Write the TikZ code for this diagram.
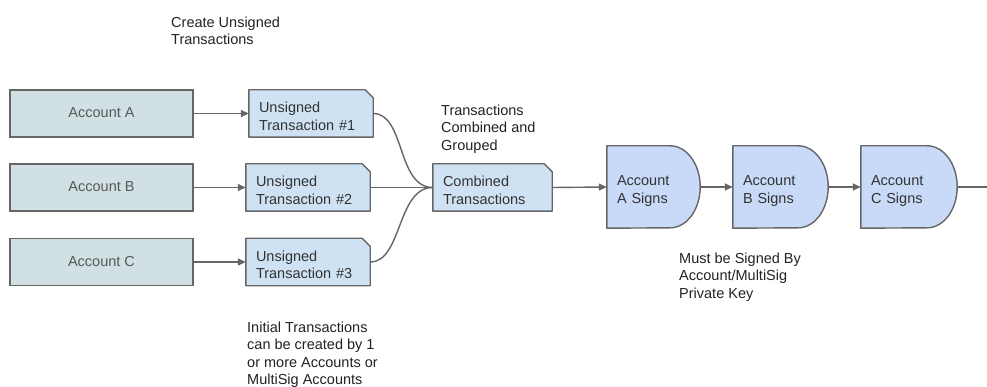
\documentclass[tikz,border=0pt]{standalone}
\usepackage{fontspec}
\setmainfont{Liberation Sans}
\usetikzlibrary{arrows.meta}
\definecolor{edge}{HTML}{666666}
\definecolor{acctfill}{HTML}{D0E0E3}
\definecolor{txfill}{HTML}{CFE2F3}
\definecolor{signfill}{HTML}{C9DAF8}
\definecolor{acctext}{HTML}{595959}
\definecolor{txtext}{HTML}{333333}
\definecolor{notetext}{HTML}{222222}
\tikzset{
  every node/.style={font=\fontsize{14.5}{17.5}\selectfont},
  acct/.style={draw=edge, line width=1.4pt, fill=acctfill, text=acctext, minimum width=183pt, minimum height=47pt, inner sep=0pt},
  txdoc/.style={draw=none, minimum height=47pt, inner xsep=10pt, inner ysep=0pt, align=left, text=txtext},
  signbox/.style={draw=none, minimum height=82pt, inner xsep=10pt, inner ysep=0pt, align=left, text=txtext},
  note/.style={anchor=north west, inner sep=0pt, align=left, text=notetext},
  conn/.style={draw=edge, line width=1.4pt},
  arr/.style={conn, -{Triangle[length=8pt,width=7pt]}},
  outline/.style={draw=edge, line width=1.4pt, line join=round}
}
\newcommand{\docshape}[2]{%
  \path[outline, fill=#2] (#1.south west) -- (#1.north west) -- ([xshift=-8pt]#1.north east) -- ([yshift=-8pt]#1.north east) -- (#1.south east) -- cycle;}
\newcommand{\dshape}[1]{%
  \path[outline, fill=signfill] (#1.south west) -- (#1.north west) -- ([xshift=-30pt]#1.north east) arc[start angle=90, end angle=-90, x radius=30pt, y radius=41pt] -- cycle;}
\begin{document}
\begin{tikzpicture}[x=1pt,y=-1pt]
\useasboundingbox (0,0) rectangle (987,387);

% accounts
\node[acct] (accA) at (101.5,113.5) {\raisebox{2pt}{Account A}};
\node[acct] (accB) at (101.5,187.5) {\raisebox{2pt}{Account B}};
\node[acct] (accC) at (101.5,262) {\raisebox{2pt}{Account C}};

% unsigned transactions
\node[txdoc, minimum width=124pt, text width=104pt] (tx1) at (311,113.5) {};
\node[txdoc, minimum width=124pt, text width=104pt] (tx2) at (308,187.5) {};
\node[txdoc, minimum width=124pt, text width=104pt] (tx3) at (308,262) {};
\docshape{tx1}{txfill}
\docshape{tx2}{txfill}
\docshape{tx3}{txfill}
\node[txdoc, minimum width=124pt, text width=104pt, yshift=-3pt] at (tx1) {Unsigned\\Transaction \#1};
\node[txdoc, minimum width=124pt, text width=104pt, yshift=-3pt] at (tx2) {Unsigned\\Transaction \#2};
\node[txdoc, minimum width=124pt, text width=104pt, yshift=-3pt] at (tx3) {Unsigned\\Transaction \#3};

% combined
\node[txdoc, minimum width=119pt, text width=99pt] (comb) at (492.5,187.5) {};
\docshape{comb}{txfill}
\node[txdoc, minimum width=119pt, text width=99pt, yshift=-3pt] at (comb) {Combined\\Transactions};

% sign shapes
\node[signbox, minimum width=93pt, text width=73pt] (sA) at (653.5,187) {};
\node[signbox, minimum width=95pt, text width=75pt] (sB) at (780.5,187) {};
\node[signbox, minimum width=96pt, text width=76pt] (sC) at (909,187) {};
\dshape{sA}
\dshape{sB}
\dshape{sC}
\node[signbox, minimum width=93pt, text width=73pt, yshift=-4pt] at (sA) {Account\\A Signs};
\node[signbox, minimum width=95pt, text width=75pt, yshift=-4pt] at (sB) {Account\\B Signs};
\node[signbox, minimum width=96pt, text width=76pt, yshift=-4pt] at (sC) {Account\\C Signs};
\coordinate (out) at (987,187);

% connectors
\draw[arr] (accA.east) -- (tx1.west);
\draw[arr] (accB.east) -- (tx2.west);
\draw[arr] (accC.east) -- (tx3.west);
\draw[conn] (tx1.east) .. controls +(32,0) and +(-36,0) .. (comb.west);
\draw[conn] (tx2.east) -- (comb.west);
\draw[conn] (tx3.east) .. controls +(32,0) and +(-36,0) .. (comb.west);
\draw[arr] (comb.east) -- (sA.west);
\draw[arr] (sA.east) -- (sB.west);
\draw[arr] (sB.east) -- (sC.west);
\draw[conn] (sC.east) -- (out);

% notes
\node[note] (n1) at (171,16.5) {Create Unsigned\\Transactions};
\node[note] (n2) at (441,104.5) {Transactions\\Combined and\\Grouped};
\node[note] (n3) at (247,321.5) {Initial Transactions\\can be created by 1\\or more Accounts or\\MultiSig Accounts};
\node[note] (n4) at (679,252.5) {Must be Signed By\\Account/MultiSig\\Private Key};
\end{tikzpicture}
\end{document}
